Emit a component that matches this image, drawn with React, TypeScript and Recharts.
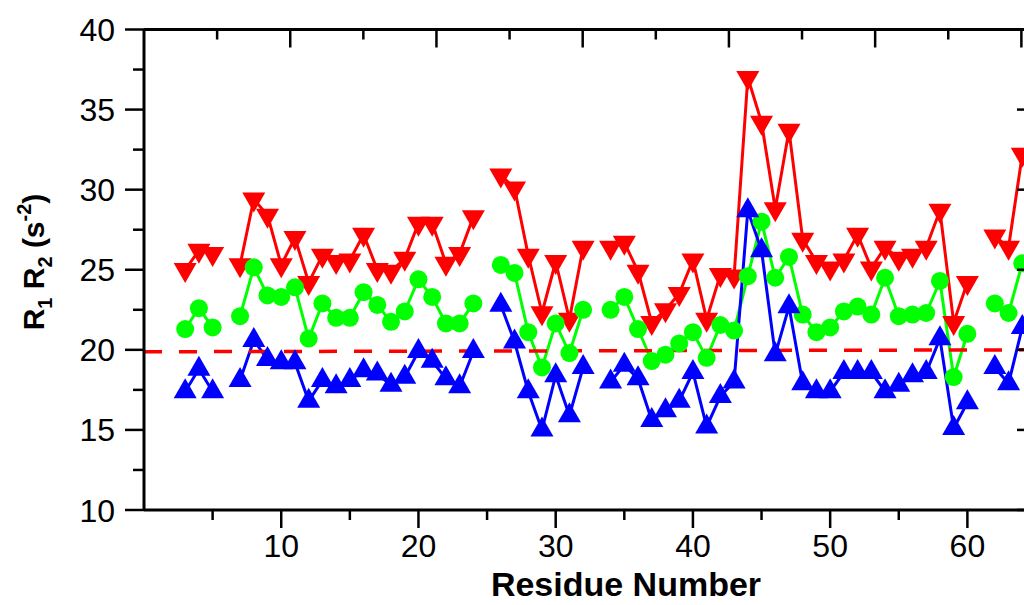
import React from 'react';
import { LineChart, Line, XAxis, YAxis, ReferenceLine } from 'recharts';

// residue numbers 3..64, gaps (no data) at 6, 25, 33, 61
const residues = [
  3, 4, 5, 6, 7, 8, 9, 10, 11, 12, 13, 14, 15, 16, 17, 18, 19, 20, 21, 22, 23, 24, 25, 26, 27, 28, 29, 30, 31, 32, 33,
  34, 35, 36, 37, 38, 39, 40, 41, 42, 43, 44, 45, 46, 47, 48, 49, 50, 51, 52, 53, 54, 55, 56, 57, 58, 59, 60, 61, 62,
  63, 64,
];

// red, down triangles
const redValues = [
  25.0, 26.2, 26.0, null, 25.3, 29.4, 28.4, 25.3, 27.0, 24.2, 25.9, 25.5, 25.6, 27.2, 25.0, 24.9, 25.7, 27.9, 27.9,
  25.4, 26.0, 28.3, null, 30.9, 30.1, 25.9, 22.3, 25.5, 21.9, 26.4, null, 26.4, 26.7, 24.9, 21.7, 22.5, 23.5, 25.6,
  21.9, 24.7, 24.6, 37.0, 34.2, 28.8, 33.7, 26.9, 25.5, 25.1, 25.6, 27.2, 25.1, 26.4, 25.7, 25.9, 26.4, 28.7, 21.7,
  24.2, null, 27.1, 26.4, 32.2,
];

// green, circles
const greenValues = [
  21.3, 22.6, 21.4, null, 22.1, 25.15, 23.4, 23.3, 23.9, 20.7, 22.9, 22.0, 22.0, 23.6, 22.8, 21.75, 22.4, 24.4, 23.3,
  21.65, 21.65, 22.9, null, 25.3, 24.8, 21.1, 18.9, 21.65, 19.8, 22.5, null, 22.5, 23.3, 21.3, 19.3, 19.7, 20.4, 21.1,
  19.5, 21.55, 21.2, 24.6, 28.0, 24.5, 25.8, 22.2, 21.1, 21.4, 22.4, 22.7, 22.2, 24.5, 22.1, 22.2, 22.3, 24.3, 18.3,
  21.0, null, 22.9, 22.3, 25.4,
];

// blue, up triangles
const blueValues = [
  17.4, 18.8, 17.4, null, 18.1, 20.6, 19.4, 19.2, 19.2, 16.8, 18.1, 17.7, 18.1, 18.7, 18.5, 17.8, 18.3, 19.9, 19.3,
  18.2, 17.7, 19.9, null, 22.8, 20.5, 17.4, 15.0, 18.4, 15.9, 18.9, null, 18.0, 19.05, 18.2, 15.6, 16.2, 16.8, 18.6,
  15.2, 17.1, 18.0, 28.7, 26.2, 19.7, 22.7, 17.9, 17.4, 17.4, 18.6, 18.6, 18.6, 17.4, 17.8, 18.4, 18.6, 20.7, 15.1,
  16.7, null, 18.9, 17.9, 21.4,
];

// dashed cutoff, value at x = 0 and at x = 65
const cutoffValues = [19.88, 20.0];

const xTicks = [5, 10, 15, 20, 25, 30, 35, 40, 45, 50, 55, 60, 65];
const yTicks = [10, 12.5, 15, 17.5, 20, 22.5, 25, 27.5, 30, 32.5, 35, 37.5, 40];

const data = residues.map((res, i) => ({
  residue: res,
  red: redValues[i],
  green: greenValues[i],
  blue: blueValues[i],
}));

const FONT = '"Liberation Sans", Arial, Helvetica, sans-serif';

const BottomTick = (props: any) => {
  const { x, y, payload } = props;
  const major = payload.value % 10 === 0;
  return (
    <g>
      <line x1={x} x2={x} y1={y} y2={y + (major ? 18 : 10)} stroke="#000" strokeWidth={2.5} />
      {major && (
        <text x={x} y={y + 47} textAnchor="middle" fontSize={32} fontFamily={FONT} fill="#000">
          {payload.value}
        </text>
      )}
    </g>
  );
};

const TopTick = (props: any) => {
  const { x, y, payload } = props;
  const major = payload.value % 10 === 0;
  return <line x1={x} x2={x} y1={y} y2={y + (major ? 18 : 10)} stroke="#000" strokeWidth={2.5} />;
};

const LeftTick = (props: any) => {
  const { x, y, payload } = props;
  const major = payload.value % 5 === 0;
  return (
    <g>
      <line x1={x - (major ? 19 : 11)} x2={x} y1={y} y2={y} stroke="#000" strokeWidth={2.5} />
      {major && (
        <text x={x - 29} y={y + 11.5} textAnchor="end" fontSize={32} fontFamily={FONT} fill="#000">
          {payload.value}
        </text>
      )}
    </g>
  );
};

const RightTick = (props: any) => {
  const { x, y, payload } = props;
  const major = payload.value % 5 === 0;
  return <line x1={x - (major ? 19 : 11)} x2={x} y1={y} y2={y} stroke="#000" strokeWidth={2.5} />;
};

const XTitle = () => (
  <text x={626} y={596} textAnchor="middle" fontSize={34} fontWeight="bold" fontFamily={FONT} fill="#000">
    Residue Number
  </text>
);

const YTitle = () => (
  <text
    transform="translate(44, 262) rotate(-90)"
    textAnchor="middle"
    fontSize={30}
    fontWeight="bold"
    fontFamily={FONT}
    fill="#000"
  >
    R
    <tspan fontSize={20} dy={8}>1</tspan>
    <tspan dy={-8}> R</tspan>
    <tspan fontSize={20} dy={8}>2</tspan>
    <tspan dy={-8}> (s</tspan>
    <tspan fontSize={20} dy={-13}>-2</tspan>
    <tspan dy={13}>)</tspan>
  </text>
);

const noDot = (props: any) => props.cx == null || props.cy == null || props.value == null || isNaN(props.cy);

const DownTriangle = (props: any) => {
  const { cx, cy, index } = props;
  if (noDot(props)) return <g key={index} />;
  const w = 23;
  const h = 20;
  return (
    <polygon
      key={index}
      points={`${cx - w / 2},${cy - h / 3} ${cx + w / 2},${cy - h / 3} ${cx},${cy + (2 * h) / 3}`}
      fill="#ff0000"
    />
  );
};

const UpTriangle = (props: any) => {
  const { cx, cy, index } = props;
  if (noDot(props)) return <g key={index} />;
  const w = 23;
  const h = 20;
  return (
    <polygon
      key={index}
      points={`${cx - w / 2},${cy + h / 3} ${cx + w / 2},${cy + h / 3} ${cx},${cy - (2 * h) / 3}`}
      fill="#0000ff"
    />
  );
};

const Circle = (props: any) => {
  const { cx, cy, index } = props;
  if (noDot(props)) return <g key={index} />;
  return <circle key={index} cx={cx} cy={cy} r={9} fill="#00ff00" />;
};

export default function App() {
  return (
    <div
      style={{
        position: 'fixed',
        left: 0,
        top: 0,
        width: 1024,
        height: 605,
        overflow: 'hidden',
        background: '#fff',
      }}
    >
      <LineChart width={1056} height={605} data={data} margin={{ top: 28.5, right: 0, bottom: 0, left: 0 }}>
        <XAxis
          xAxisId="bottom"
          dataKey="residue"
          type="number"
          domain={[0, 65]}
          allowDataOverflow
          ticks={xTicks}
          interval={0}
          height={95}
          tickSize={0}
          tickMargin={0}
          tick={<BottomTick />}
          axisLine={{ stroke: '#000', strokeWidth: 3 }}
          label={<XTitle />}
        />
        <XAxis
          xAxisId="top"
          orientation="top"
          type="number"
          domain={[0, 65]}
          allowDataOverflow
          ticks={xTicks}
          interval={0}
          height={1}
          tickSize={0}
          tickMargin={0}
          tick={<TopTick />}
          axisLine={{ stroke: '#000', strokeWidth: 3 }}
        />
        <YAxis
          yAxisId="left"
          type="number"
          domain={[10, 40]}
          allowDataOverflow
          ticks={yTicks}
          interval={0}
          width={144}
          tickSize={0}
          tickMargin={0}
          tick={<LeftTick />}
          axisLine={{ stroke: '#000', strokeWidth: 3 }}
          label={<YTitle />}
        />
        <YAxis
          yAxisId="right"
          orientation="right"
          type="number"
          domain={[10, 40]}
          allowDataOverflow
          ticks={yTicks}
          interval={0}
          width={20}
          tickSize={0}
          tickMargin={0}
          tick={<RightTick />}
          axisLine={{ stroke: '#000', strokeWidth: 3 }}
        />
        <Line
          xAxisId="bottom"
          yAxisId="left"
          type="linear"
          dataKey="red"
          stroke="#ff0000"
          strokeWidth={3}
          dot={DownTriangle}
          activeDot={false}
          connectNulls={false}
          isAnimationActive={false}
        />
        <Line
          xAxisId="bottom"
          yAxisId="left"
          type="linear"
          dataKey="green"
          stroke="#00ff00"
          strokeWidth={3}
          dot={Circle}
          activeDot={false}
          connectNulls={false}
          isAnimationActive={false}
        />
        <Line
          xAxisId="bottom"
          yAxisId="left"
          type="linear"
          dataKey="blue"
          stroke="#0000ff"
          strokeWidth={3}
          dot={UpTriangle}
          activeDot={false}
          connectNulls={false}
          isAnimationActive={false}
        />
        <ReferenceLine
          xAxisId="bottom"
          yAxisId="left"
          segment={[
            { x: 0, y: cutoffValues[0] },
            { x: 65, y: cutoffValues[1] },
          ]}
          stroke="#ff0000"
          strokeWidth={3.5}
          strokeDasharray="18 17"
          ifOverflow="extendDomain"
        />
      </LineChart>
    </div>
  );
}
